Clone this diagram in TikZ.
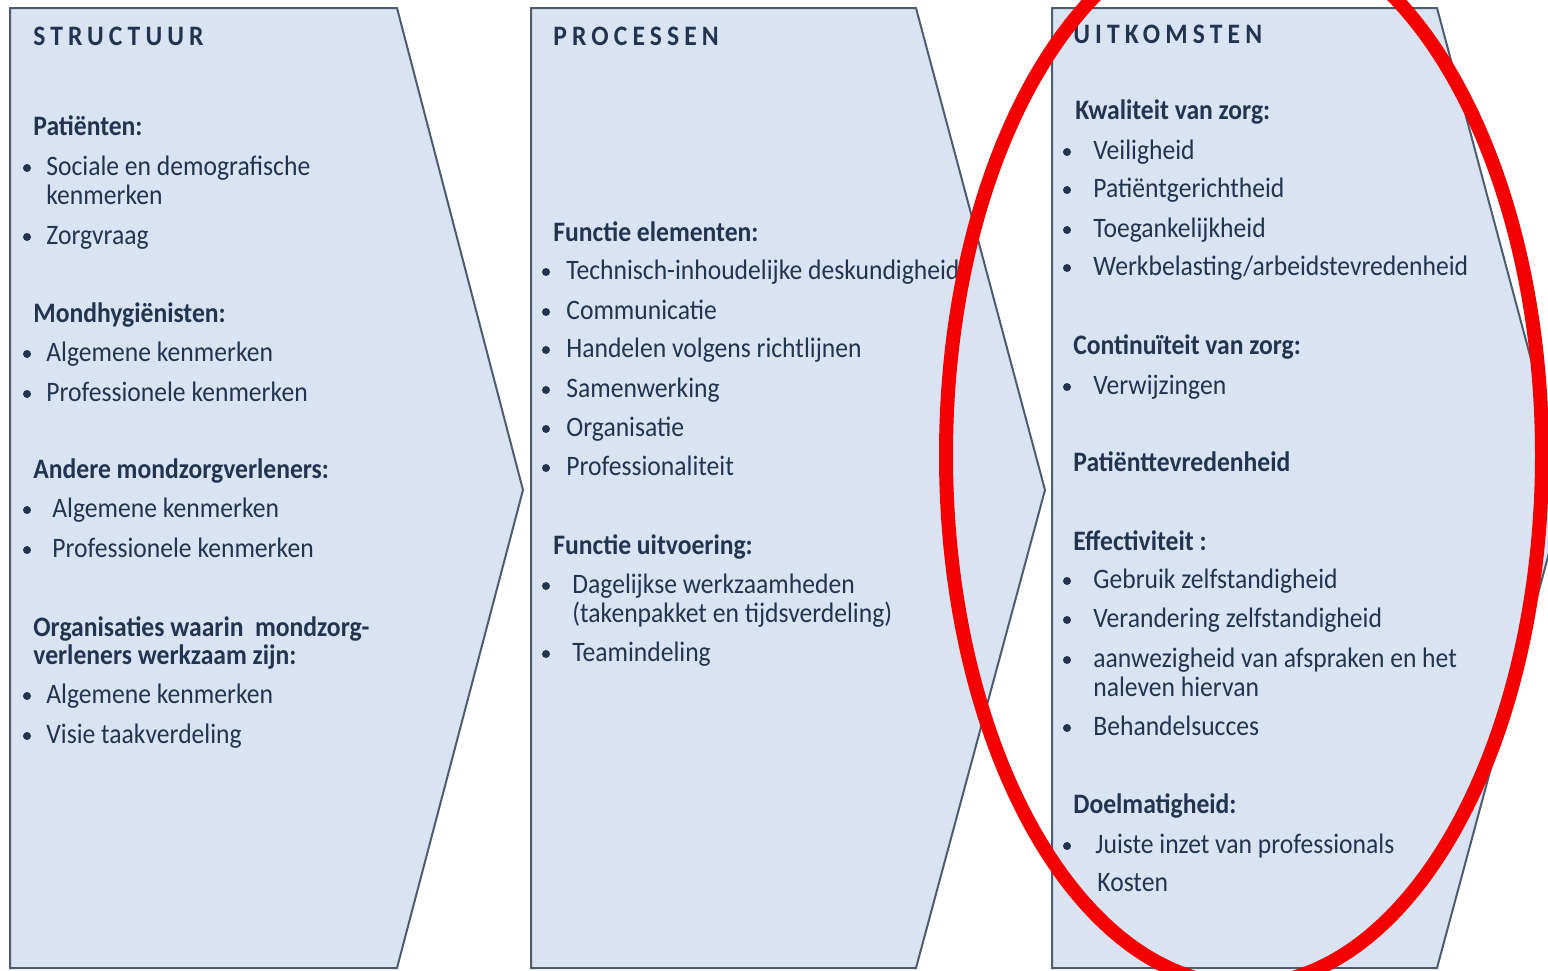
\documentclass[tikz,border=0pt]{standalone}
\usepackage{fontspec}
\setmainfont{Carlito}
\definecolor{fillc}{HTML}{DAE3F1}
\definecolor{linec}{HTML}{4E5C70}
\definecolor{txtc}{HTML}{22344F}
\definecolor{redc}{HTML}{F40000}
\newcommand{\T}[1]{\scalebox{1}[1.1]{#1}}
\begin{document}
\begin{tikzpicture}[x=0.5pt,y=-0.5pt,
  chev/.style={fill=fillc, draw=linec, line width=1pt, line join=miter},
  txt/.style={anchor=base west, inner sep=0pt, text=txtc, font=\fontsize{12.8}{14}\selectfont},
  hd/.style={txt, font=\fontsize{12.8}{14}\selectfont\bfseries},
  ttl/.style={txt, font=\fontsize{12.8}{14}\selectfont\bfseries\addfontfeatures{LetterSpace=20}},
  dot/.style={fill=txtc}]
\useasboundingbox (0,0) rectangle (1548,970);
\clip (0,0) rectangle (1548,970);
% chevrons
\path[chev] (10,8) -- (397,8) -- (523,490) -- (397,968) -- (10,968) -- cycle;
\path[chev] (531,8) -- (916,8) -- (1045,490) -- (916,968) -- (531,968) -- cycle;
\path[chev] (1052,8) -- (1437,8) -- (1566,490) -- (1437,968) -- (1052,968) -- cycle;

% ---- STRUCTUUR
\node[ttl] (t1) at (33,45) {\T{STRUCTUUR}};
\node[hd] (h11) at (33,135) {\T{Patiënten:}};
\node[txt] (i11a) at (46,175) {\T{Sociale en demografische}};
\node[txt] (i11b) at (46,204) {\T{kenmerken}};
\node[txt] (i12) at (46,244) {\T{Zorgvraag}};
\node[hd] (h12) at (33,322) {\T{Mondhygiënisten:}};
\node[txt] (i13) at (46,361) {\T{Algemene kenmerken}};
\node[txt] (i14) at (46,401) {\T{Professionele kenmerken}};
\node[hd] (h13) at (33,478) {\T{Andere mondzorgverleners:}};
\node[txt] (i15) at (52,517) {\T{Algemene kenmerken}};
\node[txt] (i16) at (52,557) {\T{Professionele kenmerken}};
\node[hd] (h14a) at (33,636) {\T{Organisaties waarin \ mondzorg-}};
\node[hd] (h14b) at (33,664) {\T{verleners werkzaam zijn:}};
\node[txt] (i17) at (46,703) {\T{Algemene kenmerken}};
\node[txt] (i18) at (46,743) {\T{Visie taakverdeling}};
\foreach \y in {168,237,354,394,510,550,696,736} \fill[dot] (27,\y) circle[radius=4];

% ---- PROCESSEN
\node[ttl] (t2) at (553,45) {\T{PROCESSEN}};
\node[hd] (h21) at (553,241) {\T{Functie elementen:}};
\node[txt] (i21) at (566,279) {\T{Technisch-inhoudelijke deskundigheid}};
\node[txt] (i22) at (566,319) {\T{Communicatie}};
\node[txt] (i23) at (566,357) {\T{Handelen volgens richtlijnen}};
\node[txt] (i24) at (566,397) {\T{Samenwerking}};
\node[txt] (i25) at (566,436) {\T{Organisatie}};
\node[txt] (i26) at (566,475) {\T{Professionaliteit}};
\node[hd] (h22) at (553,554) {\T{Functie uitvoering:}};
\node[txt] (i27a) at (572,593) {\T{Dagelijkse werkzaamheden}};
\node[txt] (i27b) at (572,622) {\T{(takenpakket en tijdsverdeling)}};
\node[txt] (i28) at (572,661) {\T{Teamindeling}};
\foreach \y in {272,312,350,390,429,468,586,654} \fill[dot] (546,\y) circle[radius=4];

% ---- UITKOMSTEN
\node[ttl] (t3) at (1073,43) {\T{UITKOMSTEN}};
\node[hd] (h31) at (1075,119) {\T{Kwaliteit van zorg:}};
\node[txt] (i31) at (1093,159) {\T{Veiligheid}};
\node[txt] (i32) at (1093,197) {\T{Patiëntgerichtheid}};
\node[txt] (i33) at (1093,237) {\T{Toegankelijkheid}};
\node[txt] (i34) at (1093,275) {\T{Werkbelasting/arbeidstevredenheid}};
\node[hd] (h32) at (1073,354) {\T{Continuïteit van zorg:}};
\node[txt] (i35) at (1093,394) {\T{Verwijzingen}};
\node[hd] (h33) at (1073,471) {\T{Patiënttevredenheid}};
\node[hd] (h34) at (1073,550) {\T{Effectiviteit :}};
\node[txt] (i36) at (1093,588) {\T{Gebruik zelfstandigheid}};
\node[txt] (i37) at (1093,627) {\T{Verandering zelfstandigheid}};
\node[txt] (i38a) at (1093,667) {\T{aanwezigheid van afspraken en het}};
\node[txt] (i38b) at (1093,696) {\T{naleven hiervan}};
\node[txt] (i39) at (1093,735) {\T{Behandelsucces}};
\node[hd] (h35) at (1073,813) {\T{Doelmatigheid:}};
\node[txt] (i40) at (1095,853) {\T{Juiste inzet van professionals}};
\node[txt] (i41) at (1097,891) {\T{Kosten}};
\foreach \y in {152,190,230,268,387,581,620,660,728,846} \fill[dot] (1067,\y) circle[radius=4];

% red ellipse
\draw[redc, line width=7pt] (1244,455) ellipse [x radius=298, y radius=530];
\end{tikzpicture}
\end{document}
